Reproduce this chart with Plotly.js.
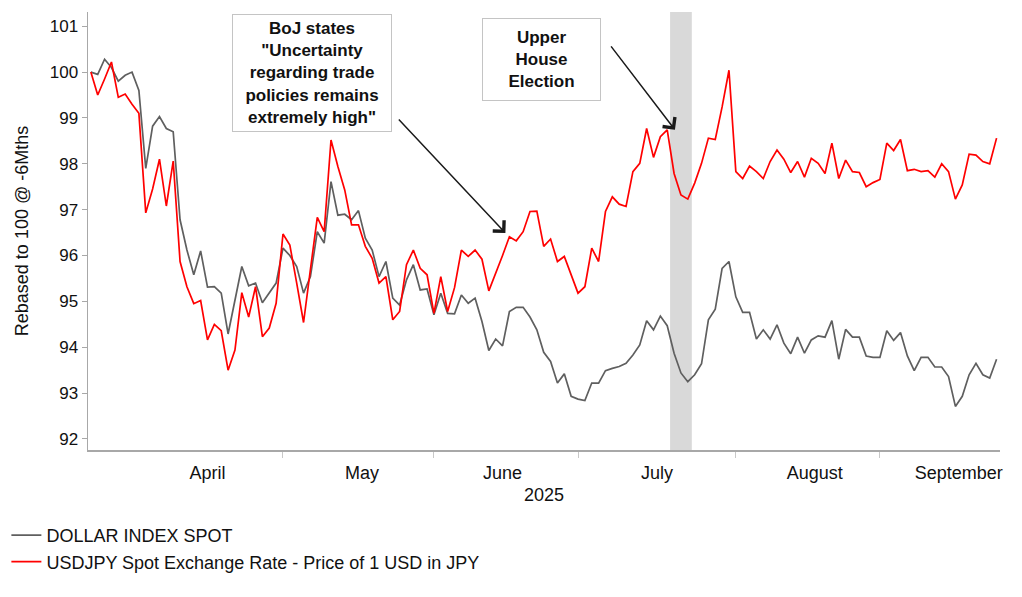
<!DOCTYPE html>
<html>
<head>
<meta charset="utf-8">
<script src="https://cdn.plot.ly/plotly-3.0.1.min.js"></script>
<style>html,body{margin:0;padding:0;background:#fff;}#chart{width:1022px;height:597px;}</style>
</head>
<body>
<div id="chart"></div>
<script>
// Trading days (x categories)
const dates = [
"2025-03-24","2025-03-25","2025-03-26","2025-03-27","2025-03-28","2025-03-31",
"2025-04-01","2025-04-02","2025-04-03","2025-04-04","2025-04-07","2025-04-08","2025-04-09","2025-04-10","2025-04-11",
"2025-04-14","2025-04-15","2025-04-16","2025-04-17","2025-04-18","2025-04-21","2025-04-22","2025-04-23","2025-04-24","2025-04-25",
"2025-04-28","2025-04-29","2025-04-30",
"2025-05-01","2025-05-02","2025-05-05","2025-05-06","2025-05-07","2025-05-08","2025-05-09","2025-05-12","2025-05-13","2025-05-14",
"2025-05-15","2025-05-16","2025-05-19","2025-05-20","2025-05-21","2025-05-22","2025-05-23","2025-05-26","2025-05-27","2025-05-28",
"2025-05-29","2025-05-30",
"2025-06-02","2025-06-03","2025-06-04","2025-06-05","2025-06-06","2025-06-09","2025-06-10","2025-06-11","2025-06-12","2025-06-13",
"2025-06-16","2025-06-17","2025-06-18","2025-06-19","2025-06-20","2025-06-23","2025-06-24","2025-06-25","2025-06-26","2025-06-27",
"2025-06-30",
"2025-07-01","2025-07-02","2025-07-03","2025-07-04","2025-07-07","2025-07-08","2025-07-09","2025-07-10","2025-07-11","2025-07-14",
"2025-07-15","2025-07-16","2025-07-17","2025-07-18","2025-07-21","2025-07-22","2025-07-23","2025-07-24","2025-07-25","2025-07-28",
"2025-07-29","2025-07-30","2025-07-31",
"2025-08-01","2025-08-04","2025-08-05","2025-08-06","2025-08-07","2025-08-08","2025-08-11","2025-08-12","2025-08-13","2025-08-14",
"2025-08-15","2025-08-18","2025-08-19","2025-08-20","2025-08-21","2025-08-22","2025-08-25","2025-08-26","2025-08-27","2025-08-28",
"2025-08-29",
"2025-09-01","2025-09-02","2025-09-03","2025-09-04","2025-09-05","2025-09-08","2025-09-09","2025-09-10","2025-09-11","2025-09-12",
"2025-09-15","2025-09-16","2025-09-17","2025-09-18","2025-09-19","2025-09-22","2025-09-23","2025-09-24"
];

// DOLLAR INDEX SPOT, rebased
const dollarIndex = [
100.0, 99.95, 100.28, 100.1, 99.8, 99.93, 100.0, 99.6, 97.9, 98.82,
99.03, 98.77, 98.7, 96.78, 96.12, 95.58, 96.1, 95.31, 95.32, 95.18,
94.29, 95.0, 95.76, 95.34, 95.4, 94.97, 95.2, 95.4, 96.16, 96.0,
95.76, 95.18, 95.54, 96.52, 96.27, 97.61, 96.88, 96.9, 96.78, 96.98,
96.38, 96.12, 95.54, 95.87, 95.07, 94.92, 95.47, 95.8, 95.25, 95.27,
94.71, 95.18, 94.74, 94.73, 95.14, 94.96, 95.07, 94.56, 93.93, 94.18,
94.03, 94.78, 94.87, 94.87, 94.66, 94.38, 93.89, 93.69, 93.22, 93.42,
92.93, 92.87, 92.84, 93.22, 93.22, 93.49, 93.54, 93.58, 93.65, 93.83,
94.05, 94.58, 94.38, 94.68, 94.47, 93.87, 93.44, 93.25, 93.4, 93.64,
94.6, 94.83, 95.72, 95.87, 95.1, 94.76, 94.76, 94.18, 94.38, 94.18,
94.49, 94.09, 93.86, 94.22, 93.87, 94.16, 94.25, 94.22, 94.58, 93.74,
94.39, 94.22, 94.22, 93.81, 93.78, 93.78, 94.36, 94.15, 94.32, 93.81,
93.49, 93.78, 93.78, 93.57, 93.57, 93.36, 92.71, 92.93, 93.4, 93.65,
93.4, 93.33, 93.74
];

// USDJPY spot, rebased
const usdJpy = [
100.0, 99.5, 99.85, 100.22, 99.45, 99.52, 99.3, 99.1, 96.93, 97.45,
98.1, 97.08, 98.06, 95.87, 95.32, 94.95, 95.02, 94.16, 94.5, 94.36,
93.5, 93.94, 95.19, 94.66, 95.32, 94.23, 94.42, 94.96, 96.47, 96.23,
95.4, 94.54, 95.7, 96.83, 96.52, 98.52, 97.94, 97.43, 96.67, 96.67,
96.2, 95.94, 95.4, 95.54, 94.6, 94.78, 95.8, 96.12, 95.72, 95.58,
94.74, 95.54, 94.78, 95.3, 96.12, 95.98, 96.12, 95.92, 95.23, 95.6,
96.0, 96.41, 96.32, 96.52, 96.96, 96.97, 96.2, 96.36, 95.87, 95.98,
95.6, 95.18, 95.32, 96.16, 95.87, 96.96, 97.28, 97.12, 97.07, 97.83,
98.01, 98.77, 98.14, 98.59, 98.74, 97.79, 97.32, 97.23, 97.58, 98.01,
98.56, 98.53, 99.24, 100.04, 97.83, 97.68, 97.95, 97.83, 97.68, 98.05,
98.3, 98.1, 97.81, 98.05, 97.71, 98.12, 98.01, 97.79, 98.45, 97.68,
98.08, 97.83, 97.81, 97.5, 97.59, 97.66, 98.45, 98.29, 98.53, 97.85,
97.88, 97.83, 97.85, 97.71, 98.0, 97.83, 97.23, 97.54, 98.21, 98.19,
98.05, 98.0, 98.56
];

const seriesNames = ["DOLLAR INDEX SPOT", "USDJPY Spot Exchange Rate - Price of 1 USD in JPY"];
const electionBand = ["2025-07-18 10:00", "2025-07-23 14:00"];
const bojNote = 'BoJ states<br>"Uncertainty<br>regarding trade<br>policies remains<br>extremely high"';
const electionNote = 'Upper<br>House<br>Election';

const FONT = "Liberation Sans, Arial, Helvetica, sans-serif";

const traces = [
  {x: dates, y: dollarIndex, type: "scatter", mode: "lines", name: seriesNames[0],
   line: {color: "#5f5f5f", width: 1.7}},
  {x: dates, y: usdJpy, type: "scatter", mode: "lines", name: seriesNames[1],
   line: {color: "#ff0000", width: 1.7}}
];

const layout = {
  width: 1022, height: 597,
  margin: {l: 88, r: 22, t: 12, b: 147, autoexpand: false},
  paper_bgcolor: "#ffffff", plot_bgcolor: "#ffffff",
  font: {family: FONT, size: 18, color: "#111111"},
  showlegend: true,
  legend: {x: -0.0895, xanchor: "left", y: -0.153, yanchor: "top", orientation: "v",
    font: {family: FONT, size: 18, color: "#111111"}, bgcolor: "rgba(0,0,0,0)", tracegroupgap: 0},
  xaxis: {
    type: "date", automargin: false,
    range: ["2025-03-21 14:00", "2025-09-24 12:00"],
    rangebreaks: [{bounds: ["sat", "mon"]}],
    tick0: "2025-01-01", dtick: "M1", ticklabelmode: "period", tickformat: "%B",
    ticks: "outside", ticklen: 6, tickcolor: "#c8c8c8", tickwidth: 1,
    showline: true, linecolor: "#a8a8a8", linewidth: 1.5,
    showgrid: false, zeroline: false,
    tickfont: {family: FONT, size: 18, color: "#111111"},
    title: {text: "2025", font: {family: FONT, size: 18, color: "#111111"}, standoff: 6}
  },
  yaxis: {
    automargin: false,
    range: [91.76, 101.31],
    tick0: 92, dtick: 1,
    ticks: "outside", ticklen: 5, tickcolor: "#a8a8a8", tickwidth: 1,
    showline: true, linecolor: "#a8a8a8", linewidth: 1.5,
    showgrid: false, zeroline: false,
    tickfont: {family: FONT, size: 17, color: "#111111"},
    title: {text: "Rebased to 100 @ -6Mths", font: {family: FONT, size: 18, color: "#111111"}, standoff: 16}
  },
  shapes: [
    {type: "rect", xref: "x", yref: "paper", x0: electionBand[0], x1: electionBand[1], y0: 0, y1: 1,
     fillcolor: "#d9d9d9", line: {width: 0}, layer: "below"}
  ],
  annotations: [
    {xref: "paper", yref: "paper", x: 0.1579, y: 0.9954, xanchor: "left", yanchor: "top",
     text: bojNote, showarrow: false, align: "center", width: 156, height: 114,
     bgcolor: "#ffffff", bordercolor: "#c4c4c4", borderwidth: 1, borderpad: 1,
     font: {family: FONT, size: 17, color: "#111111", weight: "bold"}},
    {xref: "paper", yref: "paper", x: 0.432, y: 0.9863, xanchor: "left", yanchor: "top",
     text: electionNote, showarrow: false, align: "center", width: 115, height: 79,
     bgcolor: "#ffffff", bordercolor: "#c4c4c4", borderwidth: 1, borderpad: 1,
     font: {family: FONT, size: 17, color: "#111111", weight: "bold"}},
    {xref: "x", yref: "y", x: "2025-06-16 10:00", y: 96.49, text: "", showarrow: true,
     ax: -108, ay: -115, arrowhead: 4, arrowsize: 2, arrowwidth: 1.5, arrowcolor: "#1a1a1a"},
    {xref: "x", yref: "y", x: "2025-07-21 03:00", y: 98.74, text: "", showarrow: true,
     ax: -65, ay: -85, arrowhead: 4, arrowsize: 2, arrowwidth: 1.5, arrowcolor: "#1a1a1a"}
  ]
};

Plotly.newPlot("chart", traces, layout, {displayModeBar: false, staticPlot: true});
</script>
</body>
</html>
